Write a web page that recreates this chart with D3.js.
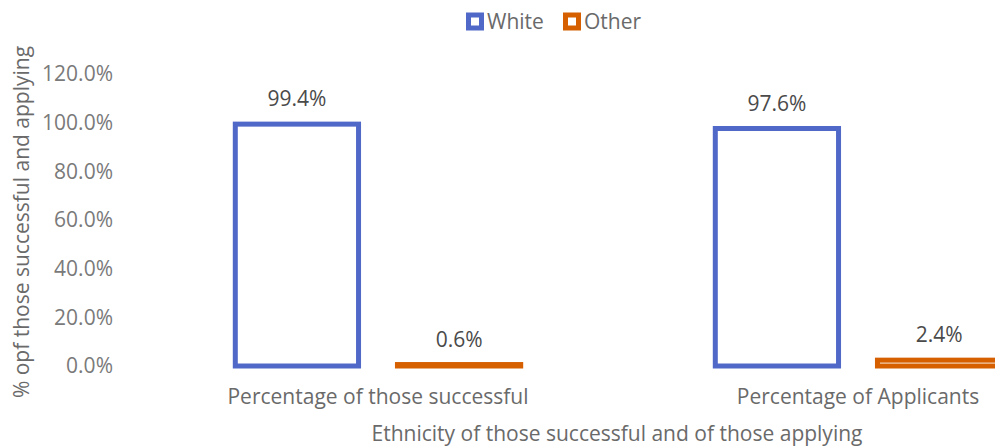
<!DOCTYPE html>
<html>
<head>
<meta charset="utf-8">
<script src="https://cdn.jsdelivr.net/npm/d3@7"></script>
<style>
  body { margin: 0; background: #fff; overflow: hidden; }
  svg { display: block; font-family: "Open Sans", "Noto Sans", sans-serif; }
</style>
</head>
<body>
<div id="viz"></div>
<script>
// Chart data
const categories = ["Percentage of those successful", "Percentage of Applicants"];
const seriesNames = ["White", "Other"];
const whiteValues = [0.994, 0.976];
const otherValues = [0.006, 0.024];
const yTicks = [0, 0.2, 0.4, 0.6, 0.8, 1.0, 1.2];

const colors = { White: "#5068C8", Other: "#D66000" };

const dims = { width: 995, height: 446 };

const svg = d3.select("#viz")
    .append("svg")
    .attr("width", dims.width)
    .attr("height", dims.height);

// plot area runs off the right edge like the reference
const xScale = d3.scaleBand()
    .domain(categories)
    .range([138, 1098]);

const xInner = d3.scaleBand()
    .domain(seriesNames)
    .range([0, xScale.bandwidth()])
    .paddingInner(0.24)
    .paddingOuter(0.6);

const yScale = d3.scaleLinear()
    .domain([0, 1.2])
    .range([366, 74]);

// y axis tick labels
svg.append("g")
    .selectAll("text")
    .data(yTicks)
    .join("text")
    .attr("x", 113)
    .attr("y", d => yScale(d))
    .attr("dy", "0.35em")
    .attr("text-anchor", "end")
    .style("font-size", "21px")
    .style("fill", "#7a7a7a")
    .text(d => d3.format(".1%")(d));

// bars
const rows = seriesNames.flatMap(s => categories.map((c, i) => ({
    cat: c, series: s, val: s === "White" ? whiteValues[i] : otherValues[i]
})));

const bars = svg.append("g");
bars.selectAll("rect")
    .data(rows)
    .join("rect")
    .attr("x", d => xScale(d.cat) + xInner(d.series))
    .attr("y", d => yScale(d.val))
    .attr("width", xInner.bandwidth())
    .attr("height", d => yScale(0) - yScale(d.val))
    .style("fill", "#fff")
    .style("stroke", d => colors[d.series])
    .style("stroke-width", 5);

// data labels
svg.append("g")
    .selectAll("text")
    .data(rows)
    .join("text")
    .attr("x", d => xScale(d.cat) + xInner(d.series) + xInner.bandwidth() / 2)
    .attr("y", d => yScale(d.val) - 18)
    .attr("text-anchor", "middle")
    .style("font-size", "21px")
    .style("fill", "#4a4a4a")
    .text(d => d3.format(".1%")(d.val));

// category labels
svg.append("g")
    .selectAll("text")
    .data(categories)
    .join("text")
    .attr("x", d => xScale(d) + xScale.bandwidth() / 2)
    .attr("y", 404)
    .attr("text-anchor", "middle")
    .style("font-size", "21px")
    .style("fill", "#6a6a6a")
    .text(d => d);

// axis titles
svg.append("text")
    .attr("x", 617)
    .attr("y", 441)
    .attr("text-anchor", "middle")
    .style("font-size", "21px")
    .style("fill", "#6a6a6a")
    .text("Ethnicity of those successful and of those applying");

svg.append("text")
    .attr("transform", "translate(29,222) rotate(-90)")
    .attr("text-anchor", "middle")
    .style("font-size", "21px")
    .style("fill", "#6a6a6a")
    .text("% opf those successful and applying");

// legend
const legendX = [466, 563];
const legend = svg.append("g")
    .selectAll("g")
    .data(seriesNames)
    .join("g")
    .attr("transform", (d, i) => `translate(${legendX[i]},12.5)`);

legend.append("rect")
    .attr("x", 2.5)
    .attr("y", 2.5)
    .attr("width", 13)
    .attr("height", 13)
    .style("fill", "#fff")
    .style("stroke", d => colors[d])
    .style("stroke-width", 5);

legend.append("text")
    .attr("x", 21)
    .attr("y", 9)
    .attr("dy", "0.35em")
    .style("font-size", "21px")
    .style("fill", "#6a6a6a")
    .text(d => d);
</script>
</body>
</html>
